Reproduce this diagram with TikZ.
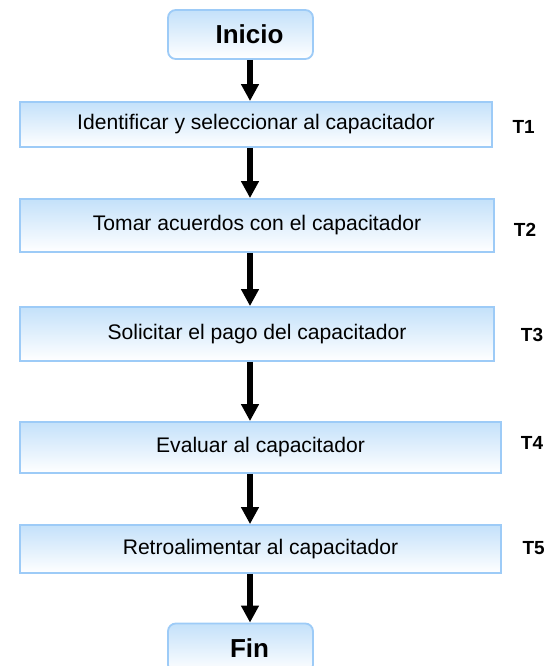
\documentclass[tikz,border=0pt]{standalone}
\usepackage{fontspec}
\setmainfont{Liberation Sans}
\usetikzlibrary{arrows.meta}
\definecolor{boxline}{HTML}{9DCBF7}
\definecolor{boxtop}{HTML}{C4E1FA}
\tikzset{
    taskbox/.style={rectangle,draw=boxline,line width=1.3pt,top color=boxtop,bottom color=white,
        font=\fontsize{15}{18}\selectfont,inner sep=0pt},
    endbox/.style={taskbox,rounded corners=5.5pt,minimum width=3.625cm,minimum height=1.225cm,
        font=\fontsize{18.5}{22}\selectfont\bfseries,execute at begin node=\hspace*{0.45cm}},
    tlabel/.style={font=\fontsize{13.5}{16}\selectfont\bfseries},
    flow/.style={line width=4.6pt,-{Triangle[length=12pt,width=12pt]}}
}
\begin{document}
\begin{tikzpicture}
                \useasboundingbox (0,0) rectangle (13.7,-16.65);
                \clip (0,0) rectangle (13.7,-16.65);
                \coordinate (ax) at (6.25,0);
                \begin{scope}[every node/.style={taskbox}]
                    \node (Ini) [endbox] at (6.0125,-0.8625) {Inicio};
                    \node (S1) [minimum width=11.8cm,minimum height=1.125cm] at (6.4,-3.1125) {Identificar y seleccionar al capacitador};
                    \node (S2) [minimum width=11.85cm,minimum height=1.325cm] at (6.425,-5.6375) {Tomar acuerdos con el capacitador};
                    \node (S3) [minimum width=11.85cm,minimum height=1.35cm] at (6.425,-8.35) {Solicitar el pago del capacitador};
                    \node (S4) [minimum width=12.025cm,minimum height=1.275cm] at (6.5125,-11.1875) {Evaluar al capacitador};
                    \node (S5) [minimum width=12.025cm,minimum height=1.2cm] at (6.5125,-13.725) {Retroalimentar al capacitador};
                    \node (Fin) [endbox] at (6.0125,-16.2) {Fin};
                \end{scope}
                \begin{scope}[every node/.style={tlabel}]
                    \node (T1) at (13.09,-3.175) {T1};
                    \node (T2) at (13.125,-5.75) {T2};
                    \node (T3) at (13.3,-8.375) {T3};
                    \node (T4) at (13.3,-11.075) {T4};
                    \node (T5) at (13.34,-13.7) {T5};
                \end{scope}
                \draw [flow] (Ini.south -| ax) -- (S1.north -| ax);
                \draw [flow] (S1.south -| ax) -- (S2.north -| ax);
                \draw [flow] (S2.south -| ax) -- (S3.north -| ax);
                \draw [flow] (S3.south -| ax) -- (S4.north -| ax);
                \draw [flow] (S4.south -| ax) -- (S5.north -| ax);
                \draw [flow] (S5.south -| ax) -- (Fin.north -| ax);
\end{tikzpicture}
\end{document}
